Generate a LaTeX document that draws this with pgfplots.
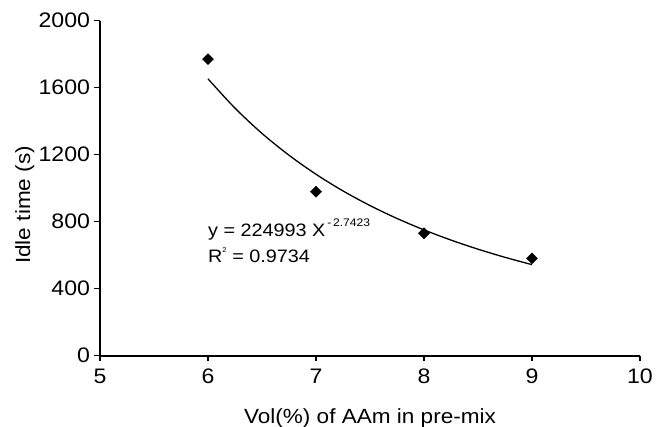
\documentclass[border=0pt]{standalone}
\usepackage{fontspec}
\setmainfont{Liberation Sans}[FakeStretch=1.1]
\usepackage{pgfplots}
\pgfplotsset{compat=1.18}
\begin{document}
\begin{tikzpicture}
\useasboundingbox (0,0) rectangle (656pt,426pt);
\begin{axis}[
  at={(100pt,70.3pt)}, anchor=south west,
  scale only axis, width=540pt, height=335pt,
  xmin=5, xmax=10, ymin=0, ymax=2000,
  axis x line*=bottom, axis y line*=left,
  xtick={5,6,7,8,9,10}, ytick={0,400,800,1200,1600,2000},
  tick align=outside, major tick length=5.5pt,
  tick style={black, line width=1.5pt},
  axis line style={black, line width=2pt},
  /pgf/number format/assume math mode=true,
  scaled y ticks=false,
  yticklabel style={/pgf/number format/1000 sep={}},
  ticklabel style={font=\fontsize{21}{25}\selectfont},
  xticklabel style={yshift=-4pt},
  yticklabel style={xshift=-1pt},
  xlabel={Vol(\%) of AAm in pre-mix},
  ylabel={Idle time (s)},
  label style={font=\fontsize{20.5}{24}\selectfont},
  xlabel style={at={(axis description cs:0.5,0)}, anchor=base, yshift=-67.3pt},
  ylabel style={at={(axis description cs:-0.139,0.45)}, anchor=center},
  clip=false,
]
\addplot[black, line width=1.3pt, smooth, no marks] coordinates {
(6,1652.9) (6.25,1477.9) (6.5,1327.0) (6.75,1196.8) (7,1083.1) (7.25,983.6)
(7.5,896.4) (7.75,819.3) (8,751.1) (8.25,690.2) (8.5,635.9) (8.75,587.3) (9,543.6)
};
\addplot[only marks, mark=square*, mark size=3.9pt, mark options={rotate=45, fill=black, draw=black}] coordinates {
(6,1771) (7,979) (8,731) (9,581)
};
\node[anchor=base west, font=\fontsize{18}{21}\selectfont, inner sep=0pt] at (axis cs:6.0,708.7)
  {y = 224993 X\raisebox{10pt}{\fontsize{11}{13}\selectfont\,-\,2.7423}};
\node[anchor=base west, font=\fontsize{18}{21}\selectfont, inner sep=0pt] at (axis cs:6.0,559)
  {R\raisebox{10pt}{\fontsize{7}{8}\selectfont 2} = 0.9734};
\end{axis}
\end{tikzpicture}
\end{document}
